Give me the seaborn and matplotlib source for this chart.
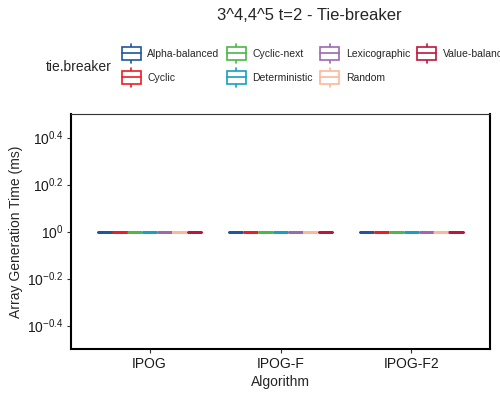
import numpy as np
import pandas as pd
import matplotlib
matplotlib.use("Agg")
import matplotlib.pyplot as plt
import seaborn as sns
from matplotlib.legend_handler import HandlerBase
from matplotlib.patches import Patch, Rectangle
from matplotlib.lines import Line2D
from matplotlib.ticker import FixedLocator, FixedFormatter, NullLocator

# ---- data ----
algorithms = ["IPOG", "IPOG-F", "IPOG-F2"]
tie_breakers = ["Alpha-balanced", "Cyclic", "Cyclic-next", "Deterministic",
                "Lexicographic", "Random", "Value-balanced"]
colors = ["#1f56a0", "#ee1c24", "#4cb848", "#17a0c0", "#9d68b0", "#fdb897", "#c0143c"]
# generation times (ms) per algorithm, one row per tie-breaker (all equal to 1 ms)
times_ipog = [1.0, 1.0, 1.0, 1.0, 1.0, 1.0, 1.0]
times_ipog_f = [1.0, 1.0, 1.0, 1.0, 1.0, 1.0, 1.0]
times_ipog_f2 = [1.0, 1.0, 1.0, 1.0, 1.0, 1.0, 1.0]
ytick_exps = [-0.4, -0.2, 0, 0.2, 0.4]
ytick_labels = [r"$\mathregular{10^{-0.4}}$", r"$\mathregular{10^{-0.2}}$",
                r"$\mathregular{10^{0}}$", r"$\mathregular{10^{0.2}}$",
                r"$\mathregular{10^{0.4}}$"]

rows = []
for alg, vals in zip(algorithms, [times_ipog, times_ipog_f, times_ipog_f2]):
    for tb, v in zip(tie_breakers, vals):
        rows.append({"Algorithm": alg, "tie.breaker": tb, "time": v})
df = pd.DataFrame(rows)

sns.set_style("white")
plt.rcParams["font.family"] = ["Liberation Sans", "DejaVu Sans"]
plt.rcParams["mathtext.fontset"] = "custom"
plt.rcParams["mathtext.rm"] = "Liberation Sans"
plt.rcParams["mathtext.it"] = "Liberation Sans:italic"
plt.rcParams["mathtext.bf"] = "Liberation Sans:bold"

fig = plt.figure(figsize=(5, 4), dpi=100)
ax = fig.add_axes([71 / 500, 1 - 349 / 400, (490 - 71) / 500, (349 - 114) / 400])

sns.boxplot(data=df, x="Algorithm", y="time", hue="tie.breaker",
            hue_order=tie_breakers, order=algorithms,
            palette=colors, fill=False, width=0.8, gap=0.08, linewidth=1.8,
            log_scale=True, legend=False, ax=ax)

ax.set_ylim(10 ** -0.5, 10 ** 0.5)
ax.set_xlim(-0.6, 2.6)
ax.yaxis.set_major_locator(FixedLocator([10 ** e for e in ytick_exps]))
ax.yaxis.set_major_formatter(FixedFormatter(ytick_labels))
ax.yaxis.set_minor_locator(NullLocator())

for s in ["left", "bottom", "right"]:
    ax.spines[s].set_color("black")
    ax.spines[s].set_linewidth(1.5)
ax.spines["top"].set_color("#333333")
ax.spines["top"].set_linewidth(0.8)

ax.tick_params(axis="both", which="major", length=3, width=0.8, color="#333333",
               labelsize=10, labelcolor="#1a1a1a", pad=2.5, direction="out",
               bottom=True, left=True)
ax.set_xlabel("Algorithm", fontsize=10, labelpad=3)
ax.set_ylabel("Array Generation Time (ms)", fontsize=10, labelpad=3)

fig.text(309 / 500, 1 - 15 / 400, "3^4,4^5 t=2 - Tie-breaker", fontsize=12,
         ha="center", va="center")


class BoxHandler(HandlerBase):
    def create_artists(self, legend, orig_handle, xdescent, ydescent,
                       width, height, fontsize, trans):
        c = orig_handle.get_edgecolor()
        x0 = -xdescent
        yc = -ydescent + height / 2
        half_total = 6.8   # points
        half_box = 4.7     # points
        rect = Rectangle((x0, yc - half_box), width, 2 * half_box,
                         facecolor="white", edgecolor=c, linewidth=1.2,
                         transform=trans)
        mid = Line2D([x0, x0 + width], [yc, yc], color=c, linewidth=1.2,
                     transform=trans)
        cx = x0 + width / 2
        w1 = Line2D([cx, cx], [yc + half_box, yc + half_total], color=c,
                    linewidth=1.2, transform=trans)
        w2 = Line2D([cx, cx], [yc - half_total, yc - half_box], color=c,
                    linewidth=1.2, transform=trans)
        return [w1, w2, rect, mid]


handles = [Patch(facecolor="white", edgecolor=c) for c in colors]
fig.legend(handles, tie_breakers, handler_map={Patch: BoxHandler()},
           loc="upper left", bbox_to_anchor=(121.5 / 500, 1 - 49 / 400),
           ncol=4, frameon=False, fontsize=7.5, handlelength=1.83,
           handletextpad=0.65, columnspacing=0.68,
           labelspacing=1.33, borderpad=0, borderaxespad=0)
fig.text(46 / 500, 1 - 67 / 400, "tie.breaker", fontsize=10, ha="left",
         va="center")

fig.savefig("out.png", dpi=100)
